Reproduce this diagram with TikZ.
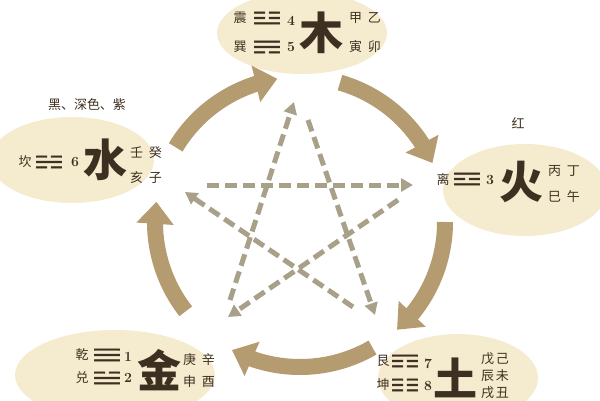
\documentclass[tikz,border=0pt]{standalone}
\usepackage{fontspec}
\newfontfamily\cjk{Noto Sans CJK SC}
\newfontfamily\guafont[FakeBold=2.5]{DejaVu Sans}
\usetikzlibrary{shapes.geometric,arrows.meta,bending}
\definecolor{paper}{RGB}{245,235,207}
\definecolor{ink}{RGB}{62,48,32}
\definecolor{tan}{RGB}{181,156,112}
\definecolor{khaki}{RGB}{168,160,136}
\begin{document}
\begin{tikzpicture}[x=1pt,y=1pt,
                    blob/.style = {shape = ellipse,
                                   fill = paper,
                                   inner sep = 0pt},
                    hanzi/.style = {font=\cjk\fontsize{13}{13}\selectfont,
                                    text = ink,
                                    inner sep = 0pt},
                    bigzi/.style = {font=\cjk\bfseries\fontsize{44}{44}\selectfont,
                                    text = ink,
                                    inner sep = 0pt},
                    gua/.style = {font=\guafont\bfseries\fontsize{17}{17}\selectfont,
                                  text = ink,
                                  inner sep = 0pt,
                                  xscale = 2,
                                  transform shape},
                    num/.style = {font=\bfseries\fontsize{14}{14}\selectfont,
                                  text = ink,
                                  inner sep = 0pt},
                    sheng/.style = {draw = tan,
                                    line width = 16pt,
                                    -{Triangle[width=36pt,length=22pt]}},
                    ke/.style = {draw = khaki,
                                 line width = 5pt,
                                 dash pattern = on 12pt off 6pt,
                                 -{Triangle[width=13pt,length=12pt]}}]
		\useasboundingbox (0,0) rectangle (600,400);
		% the five elements
		\node[blob, minimum width=170pt, minimum height=82pt] (wood) at (302,367) {};
		\node[blob, minimum width=164pt, minimum height=86pt] (water) at (72,240) {};
		\node[blob, minimum width=164pt, minimum height=92pt] (fire) at (525,210) {};
		\node[blob, minimum width=200pt, minimum height=90pt] (metal) at (115,25) {};
		\node[blob, minimum width=160pt, minimum height=88pt] (earth) at (458,22) {};
		% generating cycle
		\coordinate (o) at (300,178);
		\draw[sheng] ([shift={(149:145)}]o) arc[start angle=149, end angle=99, radius=145];
		\draw[sheng] ([shift={(74:145)}]o) arc[start angle=74, end angle=24, radius=145];
		\draw[sheng] ([shift={(0:145)}]o) arc[start angle=0, end angle=-48, radius=145];
		\draw[sheng] ([shift={(-60:145)}]o) arc[start angle=-60, end angle=-118, radius=145];
		\draw[sheng] ([shift={(218:145)}]o) arc[start angle=218, end angle=172, radius=145];
		% controlling star
		\coordinate (waterke) at (207,215);
		\coordinate (fireke) at (413,215);
		\coordinate (woodke) at (308,280);
		\coordinate (earthke) at (375,85);
		\coordinate (metalke) at (230,100);
		\coordinate (woodtip) at (294,298);
		\coordinate (fireke2) at (398,200);
		\coordinate (metaltip) at (228,83);
		\coordinate (earthke2) at (353,93);
		\coordinate (watertip) at (185,208);
		\draw[ke] (waterke) -- (fireke);
		\draw[ke] (woodke) -- (earthke);
		\draw[ke] (metalke) -- (woodtip);
		\draw[ke] (fireke2) -- (metaltip);
		\draw[ke] (earthke2) -- (watertip);
		% wood
		\node[hanzi] (zhen) at (240,382) {震};
		\node[hanzi] (xun) at (240,353) {巽};
		\node[gua] (zhengua) at (267,382) {☳};
		\node[gua] (xungua) at (267,353) {☴};
		\node[num] (n4) at (291,379) {4};
		\node[num] (n5) at (291,353) {5};
		\node[bigzi] (mu) at (321,367) {木};
		\node[hanzi] (jiayi) at (365,382) {甲\hspace{6pt}乙};
		\node[hanzi] (yinmao) at (365,353) {寅\hspace{6pt}卯};
		% water
		\node[hanzi] (waterc) at (87,295) {黑、深色、紫};
		\node[hanzi] (kan) at (25,238) {坎};
		\node[gua] (kangua) at (49,238) {☵};
		\node[num] (n6) at (75,238) {6};
		\node[bigzi] (shui) at (105,240) {水};
		\node[hanzi] (rengui) at (146,247) {壬\hspace{6pt}癸};
		\node[hanzi] (haizi) at (146,222) {亥\hspace{6pt}子};
		% fire
		\node[hanzi] (firec) at (518,277) {红};
		\node[hanzi] (li) at (443,220) {离};
		\node[gua] (ligua) at (467,221) {☲};
		\node[num] (n3) at (490,220) {3};
		\node[bigzi] (huo) at (521,218) {火};
		\node[hanzi] (bingding) at (564,229) {丙\hspace{6pt}丁};
		\node[hanzi] (siwu) at (564,203) {巳\hspace{6pt}午};
		% metal
		\node[hanzi] (qian) at (82,45) {乾};
		\node[hanzi] (dui) at (82,22) {兑};
		\node[gua] (qiangua) at (107,45) {☰};
		\node[gua] (duigua) at (107,22) {☱};
		\node[num] (n1) at (128,43) {1};
		\node[num] (n2) at (128,22) {2};
		\node[bigzi] (jin) at (159,30) {金};
		\node[hanzi] (gengxin) at (199,40) {庚\hspace{6pt}辛};
		\node[hanzi] (shenyou) at (199,18) {申\hspace{6pt}酉};
		% earth
		\node[hanzi] (gen) at (383,39) {艮};
		\node[hanzi] (kun) at (383,15) {坤};
		\node[gua] (gengua) at (405,39) {☶};
		\node[gua] (kungua) at (405,15) {☷};
		\node[num] (n7) at (428,36) {7};
		\node[num] (n8) at (428,14) {8};
		\node[bigzi] (tu) at (455,22) {土};
		\node[hanzi] (wuji) at (495,41) {戊\hspace{2pt}己};
		\node[hanzi] (chenwei) at (495,24) {辰\hspace{2pt}未};
		\node[hanzi] (xuchou) at (495,7) {戌\hspace{2pt}丑};
	\end{tikzpicture}
\end{document}
